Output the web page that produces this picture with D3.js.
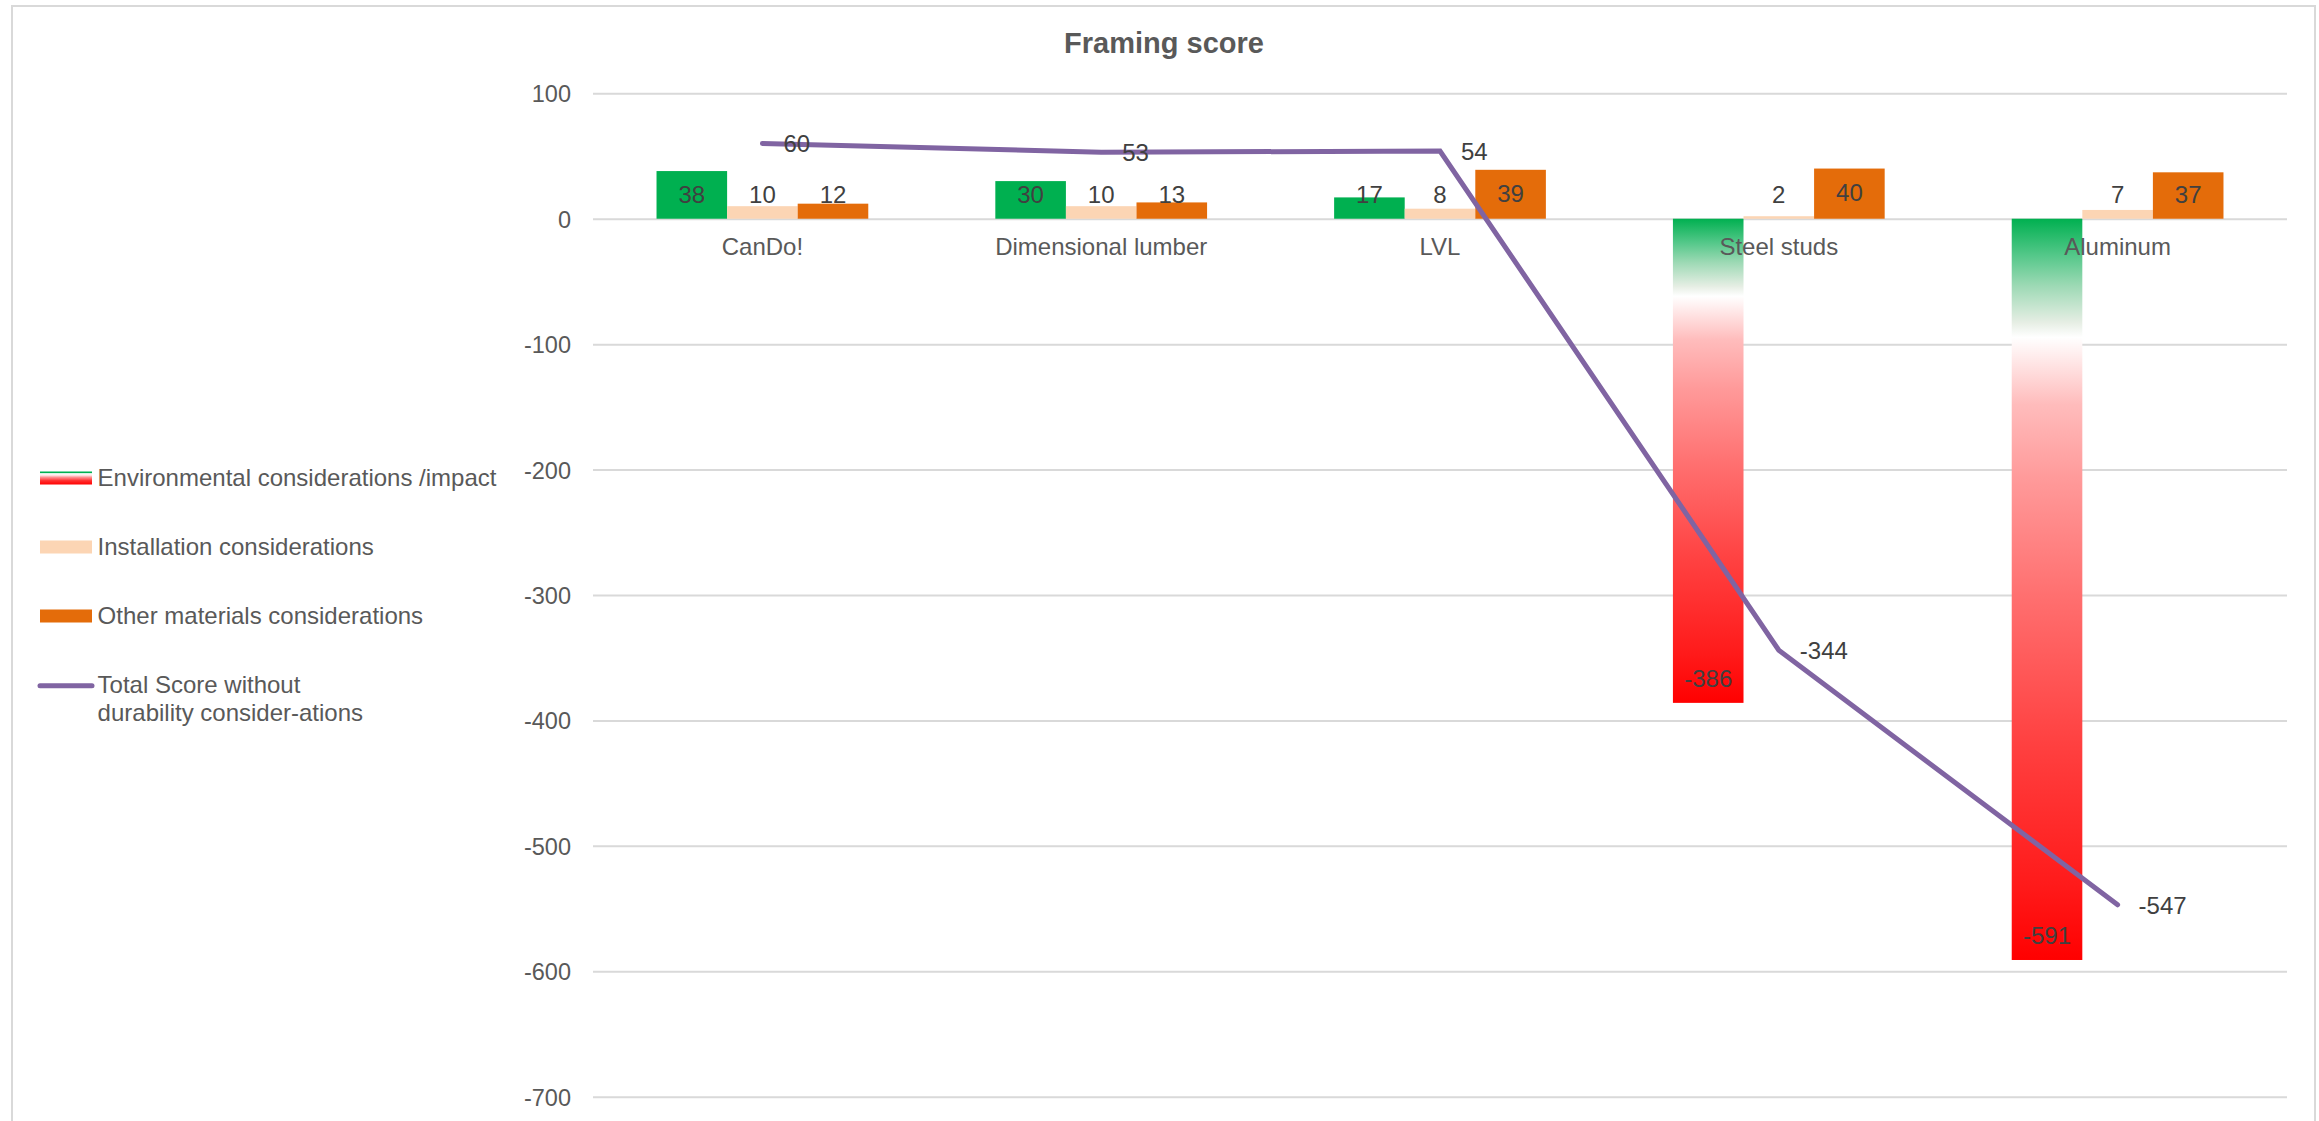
<!DOCTYPE html>
<html>
<head>
<meta charset="utf-8">
<script src="https://cdn.jsdelivr.net/npm/d3@7"></script>
<style>
  html, body { margin: 0; padding: 0; background: #fff; }
  svg { display: block; }
  text { font-family: Arial, "Liberation Sans", sans-serif; }
</style>
</head>
<body>
<svg id="chart" width="2319" height="1121"></svg>
<script>
// ---- data ----
const categories = ["CanDo!", "Dimensional lumber", "LVL", "Steel studs", "Aluminum"];
const envValues = [38, 30, 17, -386, -591];
const installValues = [10, 10, 8, 2, 7];
const otherValues = [12, 13, 39, 40, 37];
const totalValues = [60, 53, 54, -344, -547];
const yTicks = [100, 0, -100, -200, -300, -400, -500, -600, -700];
const seriesNames = ["Environmental considerations /impact", "Installation considerations", "Other materials considerations"];
const lineName = ["Total Score without", "durability consider-ations"];
const titleText = "Framing score";

// ---- layout ----
const W = 2319, H = 1121;
const plot = { left: 593, right: 2287, top: 93.3, bottom: 1096.7 };
const svg = d3.select("#chart");

const defs = svg.append("defs");
const grad = defs.append("linearGradient").attr("id", "envGrad")
  .attr("x1", 0).attr("y1", 0).attr("x2", 0).attr("y2", 1);
[[0, "#00b050"], [0.05, "#55c88a"], [0.09, "#9cd9b4"], [0.14, "#e6eee4"], [0.16, "#ffffff"], [0.25, "#ffbcbc"],
 [0.35, "#ff9a9a"], [0.51, "#ff6f6f"], [0.71, "#ff4040"], [0.9, "#ff1a1a"], [1, "#ff0000"]]
  .forEach(([o, c]) => grad.append("stop").attr("offset", o).attr("stop-color", c));
const lgrad = defs.append("linearGradient").attr("id", "envLegGrad")
  .attr("x1", 0).attr("y1", 0).attr("x2", 0).attr("y2", 1);
[[0, "#00b050"], [0.12, "#00b050"], [0.16, "#ffffff"], [0.3, "#ffe0e0"], [0.45, "#ff9090"], [0.7, "#ff3030"], [1, "#ff0000"]]
  .forEach(([o, c]) => lgrad.append("stop").attr("offset", o).attr("stop-color", c));

// chart frame
svg.append("rect").attr("x", 12).attr("y", 6).attr("width", 2303).attr("height", 1130)
  .attr("fill", "#fff").attr("stroke", "#d9d9d9").attr("stroke-width", 2);

// title
svg.append("text").attr("x", 1164).attr("y", 53).attr("text-anchor", "middle")
  .attr("font-size", 29).attr("font-weight", "bold").attr("fill", "#595959").text(titleText);

// scales
const y = d3.scaleLinear().domain([-700, 100]).range([plot.bottom, plot.top]);
const x = d3.scaleBand().domain(categories).range([plot.left, plot.right]);
const keys = ["env", "inst", "other"];
const xs = d3.scaleBand().domain(keys).range([0, x.bandwidth()]).paddingInner(0).paddingOuter(0.9);

// y axis with gridlines
const yAxis = svg.append("g").attr("transform", `translate(${plot.left},0)`)
  .call(d3.axisLeft(y).tickValues(yTicks).tickSize(-(plot.right - plot.left)).tickPadding(22).tickFormat(d => String(d)));
yAxis.select(".domain").remove();
yAxis.selectAll("line").attr("stroke", "#d9d9d9").attr("stroke-width", 2);
yAxis.selectAll("text").attr("font-size", 23.5).attr("fill", "#595959").attr("dy", "0.36em")
  .attr("font-family", 'Arial, "Liberation Sans", sans-serif');

// bars
const colors = { inst: "#fcd5b4", other: "#e46c0a" };
const rows = categories.map((c, i) => ({ cat: c, env: envValues[i], inst: installValues[i], other: otherValues[i], total: totalValues[i] }));
const y0 = y(0);
const barsG = svg.append("g");
rows.forEach(r => {
  keys.forEach(k => {
    const v = r[k];
    const fill = k === "env" ? (v < 0 ? "url(#envGrad)" : "#00b050") : colors[k];
    barsG.append("rect")
      .attr("x", x(r.cat) + xs(k))
      .attr("width", xs.bandwidth())
      .attr("y", Math.min(y(v), y0))
      .attr("height", Math.abs(y(v) - y0))
      .attr("fill", fill);
  });
});

// x axis labels
const xAxis = svg.append("g").attr("transform", `translate(0,${y0})`)
  .call(d3.axisBottom(x).tickSize(0).tickPadding(19));
xAxis.select(".domain").remove();
xAxis.selectAll("text").attr("font-size", 24).attr("fill", "#595959")
  .attr("font-family", 'Arial, "Liberation Sans", sans-serif');

// line
const lineGen = d3.line().x(d => x(d.cat) + x.bandwidth() / 2).y(d => y(d.total));
svg.append("path").datum(rows).attr("d", lineGen)
  .attr("fill", "none").attr("stroke", "#8064a2").attr("stroke-width", 5)
  .attr("stroke-linecap", "round").attr("stroke-linejoin", "miter");

// bar data labels
const labG = svg.append("g").attr("font-size", 24).attr("fill", "#404040").attr("text-anchor", "middle");
rows.forEach(r => {
  keys.forEach(k => {
    const v = r[k];
    const cy = v >= 0 ? Math.min(y(v) + 24, y0 - 24) : y(v) - 24;
    labG.append("text").attr("x", x(r.cat) + xs(k) + xs.bandwidth() / 2).attr("y", cy + 8.4).text(v);
  });
});
// line data labels
rows.forEach(r => {
  labG.append("text").attr("text-anchor", "start")
    .attr("x", x(r.cat) + x.bandwidth() / 2 + 21).attr("y", y(r.total) + 9).text(r.total);
});

// legend
const leg = svg.append("g").attr("font-size", 24).attr("fill", "#595959");
const legFills = ["url(#envLegGrad)", colors.inst, colors.other];
const legBase = [486, 555, 624];
seriesNames.forEach((n, i) => {
  leg.append("rect").attr("x", 40).attr("y", legBase[i] - 14.5).attr("width", 52).attr("height", 13).attr("fill", legFills[i]);
  leg.append("text").attr("x", 97.6).attr("y", legBase[i]).text(n);
});
leg.append("line").attr("x1", 40).attr("x2", 92).attr("y1", 685.7).attr("y2", 685.7)
  .attr("stroke", "#8064a2").attr("stroke-width", 5).attr("stroke-linecap", "round");
lineName.forEach((t, i) => leg.append("text").attr("x", 97.6).attr("y", 693 + i * 28).text(t));
</script>
</body>
</html>
